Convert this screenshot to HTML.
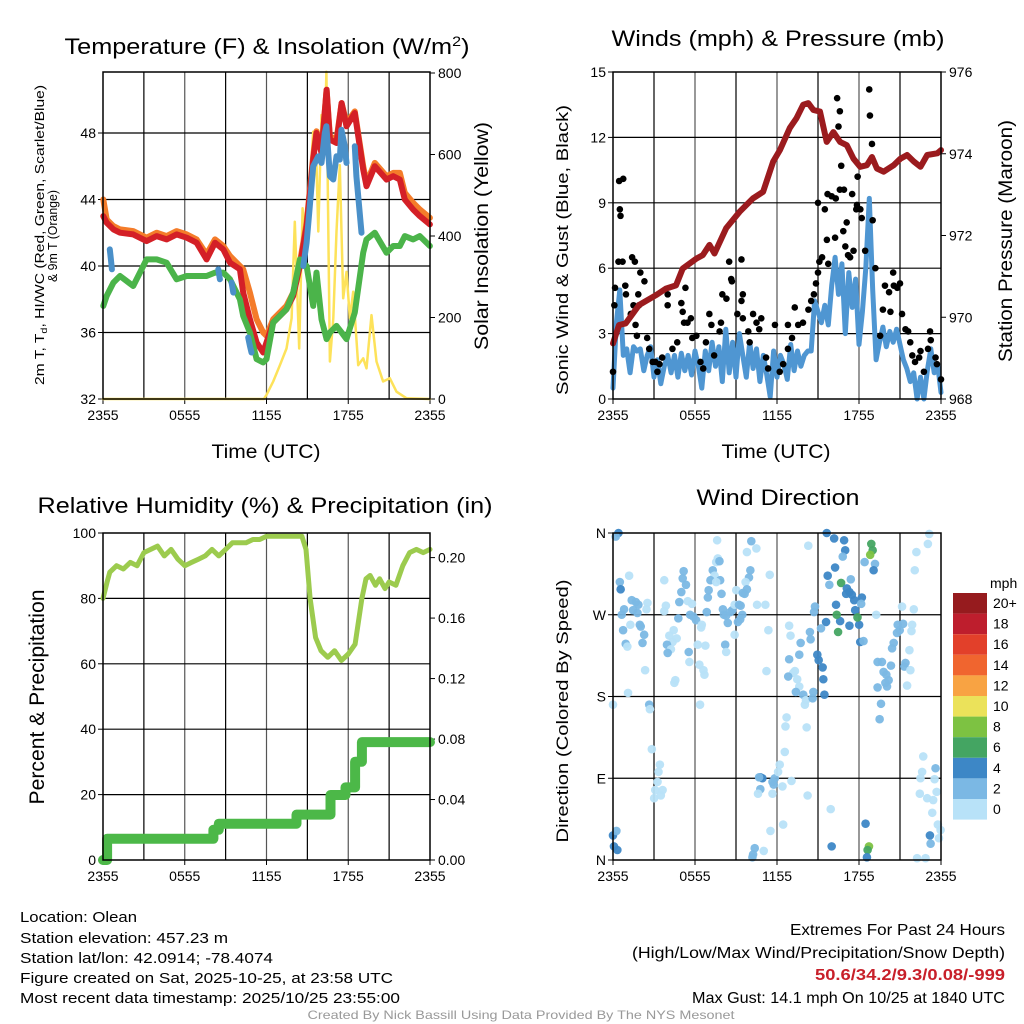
<!DOCTYPE html>
<html><head><meta charset="utf-8"><style>
body{margin:0;background:#fff}
svg{display:block;font-family:"Liberation Sans",sans-serif}
</style></head><body>
<svg id="s" width="1024" height="1024" viewBox="0 0 1024 1024" xmlns="http://www.w3.org/2000/svg">
<rect width="1024" height="1024" fill="#fff"/>
<text x="267" y="54" font-size="22" text-anchor="middle" textLength="405" lengthAdjust="spacingAndGlyphs">Temperature (F) &amp; Insolation (W/m<tspan dy="-8" font-size="14">2</tspan><tspan dy="8">)</tspan></text>
<text x="778" y="46" font-size="22" text-anchor="middle" textLength="333" lengthAdjust="spacingAndGlyphs">Winds (mph) &amp; Pressure (mb)</text>
<text x="265" y="513" font-size="22" text-anchor="middle" textLength="455" lengthAdjust="spacingAndGlyphs">Relative Humidity (%) &amp; Precipitation (in)</text>
<text x="778" y="505" font-size="22" text-anchor="middle" textLength="163" lengthAdjust="spacingAndGlyphs">Wind Direction</text>

<text transform="translate(44,235) rotate(-90)" font-size="13" text-anchor="middle" textLength="300" lengthAdjust="spacingAndGlyphs">2m T, T<tspan font-size="9" dy="3">d</tspan><tspan dy="-3">, HI/WC (Red, Green, Scarlet/Blue)</tspan></text>
<text transform="translate(57,236) rotate(-90)" font-size="13" text-anchor="middle" textLength="92" lengthAdjust="spacingAndGlyphs">&amp; 9m T (Orange)</text>
<text transform="translate(488,236) rotate(-90)" font-size="19" text-anchor="middle" textLength="228" lengthAdjust="spacingAndGlyphs">Solar Insolation (Yellow)</text>
<text x="266" y="458" font-size="19" text-anchor="middle" textLength="109" lengthAdjust="spacingAndGlyphs">Time (UTC)</text>
<text x="776" y="458" font-size="19" text-anchor="middle" textLength="109" lengthAdjust="spacingAndGlyphs">Time (UTC)</text>
<text transform="translate(568,250) rotate(-90)" font-size="17" text-anchor="middle" textLength="290" lengthAdjust="spacingAndGlyphs">Sonic Wind &amp; Gust (Blue, Black)</text>
<text transform="translate(1012,241) rotate(-90)" font-size="19" text-anchor="middle" textLength="242" lengthAdjust="spacingAndGlyphs">Station Pressure (Maroon)</text>
<text transform="translate(44,697) rotate(-90)" font-size="21" text-anchor="middle" textLength="215" lengthAdjust="spacingAndGlyphs">Percent &amp; Precipitation</text>
<text transform="translate(568,711) rotate(-90)" font-size="17" text-anchor="middle" textLength="263" lengthAdjust="spacingAndGlyphs">Direction (Colored By Speed)</text>

<g font-size="15">
<text x="20" y="922" textLength="117" lengthAdjust="spacingAndGlyphs">Location: Olean</text>
<text x="20" y="943" textLength="208" lengthAdjust="spacingAndGlyphs">Station elevation: 457.23 m</text>
<text x="20" y="963" textLength="253" lengthAdjust="spacingAndGlyphs">Station lat/lon: 42.0914; -78.4074</text>
<text x="20" y="983" textLength="373" lengthAdjust="spacingAndGlyphs">Figure created on Sat, 2025-10-25, at 23:58 UTC</text>
<text x="20" y="1003" textLength="380" lengthAdjust="spacingAndGlyphs">Most recent data timestamp: 2025/10/25 23:55:00</text>
</g>
<g font-size="16" text-anchor="end">
<text x="1005" y="935" textLength="215" lengthAdjust="spacingAndGlyphs">Extremes For Past 24 Hours</text>
<text x="1005" y="958" textLength="373" lengthAdjust="spacingAndGlyphs">(High/Low/Max Wind/Precipitation/Snow Depth)</text>
<text x="1005" y="980" fill="#c8202a" font-weight="bold" textLength="190" lengthAdjust="spacingAndGlyphs">50.6/34.2/9.3/0.08/-999</text>
<text x="1005" y="1003" textLength="313" lengthAdjust="spacingAndGlyphs">Max Gust: 14.1 mph On 10/25 at 1840 UTC</text>
</g>
<text x="521" y="1019" font-size="12" fill="#999" text-anchor="middle" textLength="427" lengthAdjust="spacingAndGlyphs">Created By Nick Bassill Using Data Provided By The NYS Mesonet</text>
</svg>
<script>
// ---- Temperature panel data ----
const tempT=[0.02,0.27,0.76,1.25,2.22,3.2,3.94,4.67,5.4,6.14,6.87,7.6,8.22,8.83,9.32,10.05,10.29,10.78,11.27,11.76,12.0,12.49,13.47,13.96,14.45,14.94,15.43,15.67,16.04,16.41,16.65,17.14,17.51,17.87,18.48,19.1,19.34,19.95,20.81,21.3,21.78,22.15,22.76,23.25,23.99];
const tempRed=[43,42.6,42.2,42,41.9,41.5,41.8,41.6,41.9,41.7,41.4,40.4,41.4,41,40.2,39.8,38.4,36.8,35.4,34.8,35.4,36.6,37.4,38.2,40,42.4,46.4,48,46.8,50.6,47.6,47.4,49.8,48.4,49.2,45.8,44.8,46,45.2,45.4,45.2,44,43.4,43,42.5];
const tempOrange=[44,42.8,42.4,42.2,42.1,41.7,42,41.8,42.1,41.9,41.6,40.7,41.6,41.2,40.6,40.0,39.8,38.4,36.8,36.0,35.8,36.8,37.6,38.4,40.2,42.6,46.6,48.1,47,50.6,47.8,47.6,49.8,48.6,49.3,46,45,46.2,45.4,45.6,45.6,44.4,43.8,43.4,42.9];
const tempDew=[37.6,38.2,39.0,39.4,38.8,40.4,40.4,40.2,39.2,39.4,39.4,39.4,39.6,39.6,39.2,38.0,37.0,36.0,34.4,34.2,34.4,36.6,37.4,38.4,40.4,40.0,37.6,39.6,36.8,35.6,36.0,36.4,36.0,35.6,37.2,40.8,41.6,42.0,40.8,41.2,41.2,41.8,41.6,41.8,41.2];
const hiwcT=[0.5,0.58,0.65,null,8.46,8.58,null,9.44,9.56,null,10.66,10.78,10.9,null,14.7,14.94,15.18,15.43,15.8,16.04,16.28,16.4,16.65,16.9,17.14,17.38,17.5,17.75,17.87,null,18.48,18.6,18.97];
const hiwcV=[41.0,40.4,39.8,null,39.8,39.2,null,39.0,38.4,null,35.7,35.2,34.8,null,40.0,41.4,43.6,46.0,46.6,46.2,48.0,48.4,45.4,45.2,46.6,46.4,48.2,47.2,46.2,null,47.2,45.4,42.0];
const solarT=[0,11.8,12.0,12.49,12.98,13.47,13.84,14.08,14.4,14.65,14.89,15.13,15.43,15.67,15.8,16.04,16.28,16.4,16.65,16.9,17.14,17.38,17.63,17.87,18.12,18.36,18.73,19.1,19.34,19.71,20.07,20.56,21.05,21.54,22.27,24];
const solarV=[0,0,10,43,83,124,198,435,124,468,362,492,656,574,411,697,640,803,92,198,411,574,247,312,198,263,83,100,75,206,92,43,51,18,2,0];
const tempTicks=[32,36,40,44,48];
const solarTicks=[0,200,400,600,800];
const timeTickLabels=['2355','0555','1155','1755','2355'];
// ---- Winds panel data ----
const presT=[0,0.44,0.93,1.91,3.14,3.87,4.61,5.1,6.08,6.57,7.06,7.43,8.28,9.26,10.25,10.98,11.72,12.21,12.94,13.43,13.92,14.29,14.66,15.15,15.64,16.13,16.62,17.11,17.6,18.09,18.58,18.95,19.31,19.8,20.54,21.03,21.52,22.01,22.5,22.99,23.73,24];
const presV=[969.36,969.81,969.85,970.30,970.54,970.70,970.78,971.19,971.43,971.52,971.77,971.56,972.18,972.58,972.91,973.07,973.81,974.09,974.63,974.87,975.20,975.24,975.07,975.03,974.29,974.53,974.29,974.21,973.88,973.68,973.72,973.92,973.64,973.56,973.72,973.88,973.97,973.81,973.68,973.97,974.01,974.09];
const windV=[0.5,3.5,5.0,2.0,2.3,1.2,2.4,2.2,2.3,1.3,2.0,2.4,1.0,1.8,0.7,1.5,2.0,1.2,2.0,1.0,2.1,1.3,2.0,1.1,2.2,1.5,0.5,2.2,1.3,2.6,1.5,2.4,0.8,3.2,1.2,2.6,1.0,3.0,2.0,1.0,2.6,1.4,2.3,0.8,2.0,1.1,0.1,2.2,1.0,2.0,1.6,0.9,2.5,1.3,2.2,1.5,2.0,2.2,2.2,4.5,4.0,3.5,4.3,3.4,5.2,6.5,4.8,6.2,3.0,5.8,4.2,5.5,2.5,4.0,6.0,9.2,5.0,1.8,2.6,3.3,2.4,3.1,2.6,3.2,2.5,1.8,1.4,0.8,1.2,0.0,1.0,0.0,1.3,2.3,1.2,1.6,0.3];
const gustT=[0,0.1,0.15,0.4,0.45,0.75,0.5,0.55,0.7,0.9,0.95,1.4,1.6,1.5,1.85,1.9,2.0,2.3,1.3,1.65,1.75,2.5,2.65,2.9,3.1,3.4,3.25,4.0,3.6,4.0,4.35,4.7,5.0,5.1,5.2,5.3,5.45,5.7,5.8,6.1,6.4,6.6,6.8,7.05,7.2,7.4,7.8,7.9,8.0,8.3,8.5,8.65,8.7,9.1,9.4,9.5,9.4,9.5,9.9,10.0,10.25,10.5,10.7,10.85,11.2,11.35,11.85,12.2,12.45,12.8,12.8,13.1,13.3,13.55,13.9,14.3,14.5,14.7,14.85,15.0,15.1,15.3,15.0,15.5,15.65,15.75,16.25,15.7,16.0,16.3,16.4,16.6,16.5,16.7,16.6,16.9,16.85,17.1,17.0,17.2,17.35,17.5,17.6,17.8,17.85,17.9,18.1,18.2,18.45,18.75,18.8,18.95,19.0,19.2,19.55,19.75,19.9,20.2,20.3,20.5,20.55,20.8,21.0,21.15,21.4,21.6,21.75,21.9,22.1,22.4,22.5,22.75,23.05,23.2,23.25,23.6,23.7,24.0];
const gustV=[1.25,4.3,5.1,6.3,10.0,10.1,8.7,8.4,6.3,5.2,4.8,6.5,6.3,4.3,4.8,4.3,5.8,5.4,3.9,3.4,2.9,2.8,2.3,1.7,1.7,1.6,1.25,4.8,1.9,4.3,2.3,2.6,4.4,4.0,3.5,5.1,3.5,3.7,2.8,2.9,1.7,1.4,2.6,3.9,3.4,2.0,3.1,3.5,4.8,4.6,6.3,5.5,5.4,3.9,6.4,4.8,4.5,3.7,3.1,2.6,3.9,3.5,3.2,3.7,1.9,1.4,3.4,1.25,1.6,3.4,2.3,2.8,4.2,3.4,3.5,4.1,4.5,4.8,5.3,5.8,6.3,6.5,9.0,8.7,7.3,6.2,7.4,9.4,9.3,9.2,13.8,13.2,12.5,10.7,9.6,9.6,7.7,8.1,7.0,6.6,6.5,9.4,6.8,8.7,8.9,10.2,8.7,8.3,6.8,14.2,13.0,11.7,8.2,6.0,2.9,4.1,5.2,4.9,4.0,5.8,5.2,5.1,5.3,3.9,3.2,3.1,2.6,2.0,1.7,1.9,2.2,1.25,2.3,3.1,2.7,1.9,1.6,0.9];
const windTicks=[0,3,6,9,12,15];
const presTicks=[968,970,972,974,976];
// ---- Humidity panel data ----
const rhT=[0,0.3,0.5,1,1.5,2,2.5,3,3.5,4,4.5,5,5.5,6,6.5,7,7.5,8,8.5,9,9.5,10,10.5,11,11.5,12,12.5,13,13.5,14.6,14.9,15.2,15.6,16,16.5,17,17.5,18,18.5,19,19.3,19.6,20,20.3,20.7,21,21.5,22,22.5,23,23.5,24];
const rhV=[80,85,88,90,89,91,90,94,95,96,93,95,92,90,91,92,93,95,93,95,97,97,97,98,98,99,99,99,99,99,95,80,68,64,62,64,61,63,66,80,86,87,84,86,83,85,84,90,94,95,94,95];
const precipT=[0,0.3,8.1,8.5,14.2,16.7,17.8,18.5,19.0,24];
const precipV=[0,0.014,0.02,0.024,0.03,0.043,0.048,0.065,0.078,0.078];
const rhTicks=[0,20,40,60,80,100];
const precipTicks=[0,0.04,0.08,0.12,0.16,0.20];
// ---- Wind direction panel data ----
const dirT=[0.4,0.2,0.5,0.56,1.18,1.37,1.67,1.86,2.52,2.45,0.81,0.64,1.47,1.79,1.27,0.74,1.96,2.03,2.28,2.16,0.93,1.05,2.35,1.1,0,2.65,2.7,2.84,3.43,3.33,3.26,3.63,3.09,3.01,3.5,0,0.25,0.07,0.32,3.75,3.87,3.75,5.1,5.17,5.34,5.0,4.85,5.47,5.78,5.64,5.88,6.08,4.78,4.44,4.12,4.36,4.66,3.95,4.24,4.0,5.54,5.59,6.5,6.45,6.2,6.76,6.32,6.62,6.69,4.56,4.49,6.37,7.62,7.67,7.55,7.79,7.3,7.43,7.13,7.84,7.55,7.0,6.94,7.94,6.86,8.04,8.11,8.28,8.58,8.4,8.73,8.9,9.02,9.22,9.34,9.46,9.14,9.31,8.9,8.21,8.28,10.12,10.49,9.8,10.05,9.95,9.7,9.8,9.5,9.63,10.54,11.15,11.47,11.37,11.23,10.78,10.93,10.69,10.78,10.61,11.67,11.76,11.84,11.67,12.08,12.2,12.57,12.7,12.62,12.4,13.06,11.52,11.03,10.37,10.25,10.2,12.45,12.89,12.99,13.73,13.63,12.89,13.31,13.19,12.82,13.48,13.63,13.38,13.92,14.12,14.04,14.66,14.61,14.41,14.46,14.17,14.29,14.78,14.71,14.95,15.05,15.34,15.39,15.47,15.64,16.18,16.91,16.99,16.81,16.25,15.71,15.83,16.69,17.4,17.11,17.3,17.48,17.65,17.06,16.32,16.62,17.3,17.72,18.21,18.16,18.01,17.89,16.37,16.47,15.59,15.22,18.09,18.33,18.9,19.0,18.82,18.41,19.17,19.07,19.26,21.15,22.01,20.83,21.23,20.78,20.98,21.89,21.84,20.54,20.42,21.69,19.36,19.68,20.34,19.8,20.0,20.17,19.93,20.05,19.36,21.4,21.32,21.76,21.52,19.61,19.51,22.2,23.04,23.14,22.08,22.7,22.62,22.5,23.6,23.53,22.45,22.99,23.43,23.68,23.36,23.77,23.19,23.24,23.97,23.85,22.25,22.87,15.93,14.24,18.48,16.0,18.73,18.63,18.58];
const dirV=[360,356,306,298,313,286,284,281,283,276,276,270,275,272,259,253,259,257,248,239,238,235,209,184,171,171,166,122,105,97,86,77,77,68,71,27,32,15,11,308,280,274,310,318,303,295,284,285,282,270,268,264,266,253,247,240,244,237,232,228,229,218,259,256,237,236,215,209,204,198,195,171,352,332,328,329,319,313,308,308,306,297,289,293,273,276,270,269,273,261,275,281,297,281,280,270,262,265,248,237,229,351,343,339,319,311,306,298,294,293,281,281,314,253,208,91,90,91,78,73,86,83,90,73,97,105,119,157,147,81,87,32,10,13,6,3,39,258,247,239,226,221,208,206,202,199,191,185,182,176,171,185,178,251,243,146,346,279,273,226,220,212,199,182,360,354,352,341,334,322,313,303,305,309,299,295,292,286,293,281,263,258,275,289,282,259,267,270,251,262,255,240,241,348,341,336,328,326,319,270,279,276,259,260,250,253,259,252,239,233,231,218,218,214,207,204,198,195,191,190,217,213,209,192,172,155,339,348,359,319,114,97,90,101,89,73,68,66,75,52,39,27,18,33,24,2,2,56,71,40,15,15,11,3];
const dirS=[5,3,3,5,1,3,3,3,1,1,3,3,3,3,1,3,3,3,3,3,3,1,1,1,1,3,1,1,1,1,1,1,1,1,1,5,3,5,5,1,1,1,3,3,3,3,3,1,1,3,3,3,3,1,1,1,1,3,1,3,3,1,1,1,1,1,1,1,1,1,1,1,1,1,1,3,3,1,3,3,1,3,3,3,3,3,3,3,3,3,3,1,1,3,3,3,3,3,1,3,1,3,1,1,3,3,1,3,3,3,1,1,1,1,1,5,5,3,3,1,3,3,3,1,1,1,1,1,1,1,1,1,1,3,3,3,1,1,1,3,3,3,1,1,3,1,1,3,3,1,1,3,3,3,3,1,1,3,3,5,5,5,5,5,5,5,5,5,3,5,5,3,7,3,5,5,5,5,5,5,5,5,5,5,3,5,7,7,7,5,3,5,3,7,7,9,3,3,5,1,1,1,3,3,3,3,1,1,3,3,1,3,3,3,3,3,3,3,3,3,3,3,1,1,3,3,1,1,1,1,1,1,1,3,1,1,1,1,1,1,1,5,3,1,1,1,1,1,1,5,5,9,7,5];
const dirTickLabels=['N','E','S','W','N'];
const legendLabels=['20+','18','16','14','12','10','8','6','4','2','0'];
const legendColors=['#961b1e','#be1e2d','#e2402a','#f0652f','#f8a343','#ebe25a','#7dc242','#44a562','#3d87c6','#7bb8e4','#b8e2f8'];

const NS='http://www.w3.org/2000/svg';
const svg=document.getElementById('s');
function el(tag,attrs,parent){const e=document.createElementNS(NS,tag);for(const k in attrs)e.setAttribute(k,attrs[k]);(parent||svg).appendChild(e);return e;}
function mkScale(d0,d1,r0,r1){return v=>r0+(v-d0)/(d1-d0)*(r1-r0);}

const P1={x0:103,x1:430,y0:72,y1:399},P2={x0:613,x1:941,y0:72,y1:399},P3={x0:103,x1:430,y0:533,y1:860},P4={x0:613,x1:941,y0:533,y1:860};
function frame(P,name,leftTicks,leftFn,leftLbl,rightTicks,rightFn,rightLbl){
  const g=el('g',{});
  
  
  const sx=mkScale(0,24,P.x0,P.x1);
  for(let h=3;h<24;h+=3){const l=el('line',{x1:sx(h),x2:sx(h),y1:P.y0,y2:P.y1,stroke:(h%6==0)?'#555':'#000','stroke-width':1.2},g);
    }
  leftTicks.forEach((v,i)=>{const y=leftFn(v);
    if(y>P.y0+1&&y<P.y1-1){const l=el('line',{x1:P.x0,x2:P.x1,y1:y,y2:y,stroke:'#000','stroke-width':1.2},g);}
    el('line',{x1:P.x0-5,x2:P.x0,y1:y,y2:y,stroke:'#000'},g);
    const t=el('text',{x:P.x0-7,y:y+5,'font-size':14,'text-anchor':'end'},g);t.textContent=leftLbl[i];
    });
  if(rightTicks)rightTicks.forEach((v,i)=>{const y=rightFn(v);
    el('line',{x1:P.x1,x2:P.x1+5,y1:y,y2:y,stroke:'#000'},g);
    const t=el('text',{x:P.x1+8,y:y+5,'font-size':14},g);t.textContent=rightLbl[i];
    });
  [0,6,12,18,24].forEach((h,i)=>{el('line',{x1:sx(h),x2:sx(h),y1:P.y1,y2:P.y1+5,stroke:'#000'},g);
    const t=el('text',{x:sx(h),y:P.y1+21,'font-size':14,'text-anchor':'middle'},g);t.textContent=timeTickLabels[i];
    });
  return sx;
}
function border(P){const r=el('rect',{x:P.x0,y:P.y0,width:P.x1-P.x0,height:P.y1-P.y0,fill:'none',stroke:'#000','stroke-width':1.5});
  }
function series(sx,ts,vs,yf,color,w,name,step){
  let d='',pen=false,prevY=null;
  for(let i=0;i<ts.length;i++){if(ts[i]===null||vs[i]===null){pen=false;continue;}
    const x=sx(ts[i]).toFixed(1),y=yf(vs[i]).toFixed(1);
    if(!pen){d+='M'+x+' '+y;pen=true;}else{if(step)d+='L'+x+' '+prevY;d+='L'+x+' '+y;}prevY=y;}
  const p=el('path',{d:d,fill:'none',stroke:color,'stroke-width':w,'stroke-linejoin':'round','stroke-linecap':'round'});
  }

// Panel 1
const yT=mkScale(32,32+327/16.625,399,72), yS=mkScale(0,327/0.4075,399,72);
const sx1=frame(P1,'temperature',tempTicks,yT,tempTicks.map(String),solarTicks,yS,solarTicks.map(String));
series(sx1,solarT,solarV,yS,'#fde25a',2.5,'solar-insolation-line');
series(sx1,tempT,tempOrange,yT,'#f47c2a',6,'9m-temperature-line');
series(sx1,tempT,tempRed,yT,'#d42027',6,'2m-temperature-line');
series(sx1,tempT,tempDew,yT,'#4bb44a',6,'dewpoint-line');
series(sx1,hiwcT,hiwcV,yT,'#4a90c9',6,'heat-index-windchill-line');
border(P1);

// Panel 2
const yW=mkScale(0,15,399,72), yP=mkScale(968,976,399,72);
const sx2=frame(P2,'winds',windTicks,yW,windTicks.map(String),presTicks,yP,presTicks.map(String));
const windT=windV.map((v,i)=>i*0.25);
series(sx2,windT,windV,yW,'#4f96d2',5,'sonic-wind-line');
gustT.forEach((t,i)=>{const c=el('circle',{cx:sx2(t),cy:yW(gustV[i]),r:3.3,fill:'#000'});
  });
series(sx2,presT,presV,yP,'#9b1b1e',6,'pressure-line');
border(P2);

// Panel 3
const yR=mkScale(0,100,860,533), yPr=mkScale(0,327/1512,860,533);
const sx3=frame(P3,'humidity',rhTicks,yR,rhTicks.map(String),precipTicks,yPr,precipTicks.map(v=>v.toFixed(2)));
series(sx3,precipT,precipV,yPr,'#4cb848',10,'precipitation-line',true);
series(sx3,rhT,rhV,yR,'#9ccb4e',5,'relative-humidity-line');
border(P3);

// Panel 4
const yD=mkScale(0,360,860,533);
const sx4=frame(P4,'wind-direction',[0,90,180,270,360],yD,dirTickLabels,null,null,null);
function spdColor(s){const idx=10-Math.min(10,Math.floor(s/2));return legendColors[idx];}
dirT.forEach((t,i)=>{const c=el('circle',{cx:sx4(t),cy:yD(dirV[i]),r:4.3,fill:spdColor(dirS[i]),'fill-opacity':0.95});
  });
border(P4);

// Colorbar legend
const lg=el('g',{});


const mt=el('text',{x:990,y:588,'font-size':14},lg);mt.textContent='mph';
legendColors.forEach((c,i)=>{const y=593+i*20.6;
  const r=el('rect',{x:953,y:y,width:34,height:20.6,fill:c},lg);
  
  const t=el('text',{x:993,y:y+15,'font-size':14},lg);t.textContent=legendLabels[i];
  });
</script>
</body></html>
